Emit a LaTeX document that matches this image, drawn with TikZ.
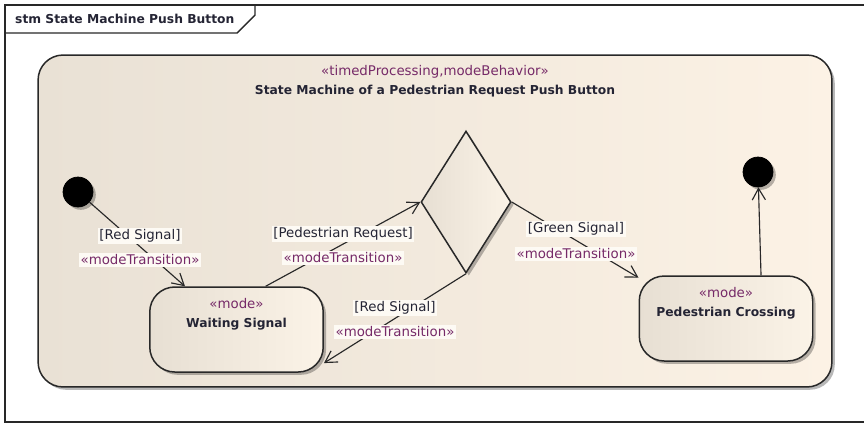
\documentclass[tikz,border=0pt]{standalone}
\usepackage{fontspec}
\setmainfont{DejaVu Sans}
\usepackage{tikz}
\usetikzlibrary{arrows.meta,positioning,shapes.geometric,shadows}

\definecolor{smleft}{RGB}{233,225,213}
\definecolor{smright}{RGB}{252,242,229}
\definecolor{stleft}{RGB}{231,223,211}
\definecolor{stright}{RGB}{251,243,231}
\definecolor{stereocol}{RGB}{118,42,104}
\definecolor{txtcol}{RGB}{36,36,52}
\definecolor{lblbg}{RGB}{253,250,244}
\definecolor{linecol}{RGB}{40,40,40}

\newcommand{\stereo}[1]{\textcolor{stereocol}{«#1»}}
\newcommand{\nm}[1]{{\fontsize{7}{10.8}\selectfont\bfseries #1}}

\begin{document}
\begin{tikzpicture}
[x=0.02cm,y=-0.02cm,
 every node/.style={font=\fontsize{7.6}{10.8}\selectfont,text=txtcol},
 shadowed/.style={drop shadow={shadow xshift=1.6pt,shadow yshift=-1.6pt,fill=black,opacity=0.28}},
 machine/.style={draw=linecol,line width=0.85pt,rounded corners=0.5cm,left color=smleft,right color=smright,shadowed,minimum width=15.88cm,minimum height=6.64cm},
 mode/.style={draw=linecol,line width=0.85pt,rounded corners=0.5cm,left color=stleft,right color=stright,shadowed,minimum width=3.47cm,minimum height=1.7cm},
 choice/.style={diamond,draw=linecol,line width=0.85pt,left color=stleft,right color=stright,shadowed,inner sep=0pt,minimum width=1.8cm,minimum height=2.84cm},
 bullet/.style={circle,fill=black,draw=black,inner sep=0pt,minimum size=0.6cm,shadowed},
 lbl/.style={fill=lblbg,inner sep=1pt,font=\fontsize{7.6}{8}\selectfont},
 trans/.style={draw=linecol,line width=0.65pt,-{Straight Barb[length=6.5pt,width=7.5pt]}}]
\useasboundingbox (0,0) rectangle (864,424);

% diagram frame
\draw[linecol,line width=1pt] (870,5) -- (5,5) -- (5,422) -- (870,422);
\draw[linecol,line width=0.8pt] (5,33) -- (237,33) -- (255,15) -- (255,5);
\node[anchor=west] (frame) at (9,19) {\nm{stm State Machine Push Button}};

% composite state
\node[machine] (sm) at (435,221) {};
\node[align=center] (smname) at (435,81) {\stereo{timedProcessing,modeBehavior}\\\nm{State Machine of a Pedestrian Request Push Button}};

\node[bullet] (init) at (78,192) {};
\node[bullet] (final) at (758,172) {};

\node[mode] (ws) at (236.5,329.5) {};
\node[align=center] (wsname) at (236.5,314.5) {\stereo{mode}\\\nm{Waiting Signal}};

\node[mode] (pc) at (726,318.5) {};
\node[align=center] (pcname) at (726,303.5) {\stereo{mode}\\\nm{Pedestrian Crossing}};

\node[choice] (dec) at (466,202) {};

\draw [trans] (init) -- (ws.140.5);
\draw [trans] (ws.56) -- (dec.west);
\draw [trans] (dec.south) -- (ws.-21);
\draw [trans] (dec.east) -- (pc.155);
\draw [trans] (pc.51) -- (final);

\node[lbl] (g1) at (140,236) {[Red Signal]};
\node[lbl] (s1) at (140,260) {\stereo{modeTransition}};
\node[lbl] (g2) at (343,234) {[Pedestrian Request]};
\node[lbl] (s2) at (343,258) {\stereo{modeTransition}};
\node[lbl] (g3) at (395,308) {[Red Signal]};
\node[lbl] (s3) at (395,332) {\stereo{modeTransition}};
\node[lbl] (g4) at (576,229) {[Green Signal]};
\node[lbl] (s4) at (576,254) {\stereo{modeTransition}};
\end{tikzpicture}
\end{document}
